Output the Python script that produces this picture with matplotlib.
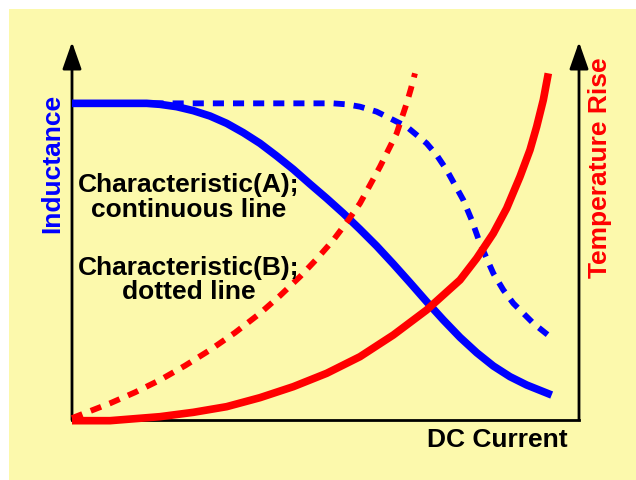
import matplotlib
matplotlib.use("Agg")
import matplotlib.pyplot as plt
from matplotlib.patches import Rectangle

# ---- data (x: DC current, y: relative level, both 0..100 of axis) ----
blue_solid_x = [0, 14.73, 17.36, 20.64, 23.93, 27.22, 30.51, 33.79, 37.08, 40.37, 43.65,
                46.94, 50.23, 53.52, 56.80, 60.09, 63.38, 66.67, 69.95, 73.24, 76.53,
                79.82, 83.10, 86.39, 89.68, 94.61]
blue_solid_y = [83.77, 83.77, 83.51, 82.89, 81.83, 80.42, 78.48, 76.01, 73.19, 69.84, 66.31,
                62.43, 58.64, 54.67, 50.44, 46.03, 41.27, 36.33, 31.31, 26.46, 21.87,
                17.81, 14.29, 11.46, 9.26, 6.61]

blue_dash_x = [0, 51.5, 54.18, 56.80, 60.09, 63.38, 66.01, 67.98, 69.95, 71.92, 73.90,
               75.54, 77.18, 78.83, 80.47, 83.10, 85.08, 87.05, 91.00, 94.28]
blue_dash_y = [83.77, 83.77, 83.51, 82.89, 81.57, 79.37, 77.60, 75.40, 73.19, 70.10, 66.14,
               62.17, 58.20, 52.91, 46.74, 38.80, 34.39, 30.86, 25.57, 22.05]

red_solid_x = [0, 7.50, 17.36, 23.93, 30.51, 37.08, 43.65, 50.23, 56.80, 63.38, 69.95,
               76.53, 79.82, 83.10, 85.73, 88.36, 90.33, 91.65, 92.96, 93.95]
red_solid_y = [-0.18, -0.18, 0.88, 2.03, 3.53, 5.91, 8.82, 12.35, 16.75, 22.49, 29.10,
               37.04, 42.77, 49.38, 55.99, 64.37, 71.43, 77.60, 84.66, 91.71]

red_dash_x = [0, 7.50, 12.43, 17.36, 22.29, 27.22, 32.15, 37.08, 41.03, 44.97, 48.26,
              51.55, 54.18, 56.80, 58.78, 60.75, 62.39, 64.04, 65.02, 66.01, 66.87, 67.65]
red_dash_y = [0.5, 4.41, 7.32, 10.58, 14.37, 18.52, 23.10, 28.22, 32.89, 37.92, 42.59,
              47.62, 52.29, 57.32, 62.17, 67.02, 71.43, 75.84, 79.81, 83.77, 87.74, 91.71]

left_label = "Inductance"
right_label = "Temperature Rise"
x_label = "DC Current"
note_a = ["Characteristic(A);", "continuous line"]
note_b = ["Characteristic(B);", "dotted line"]

W, H = 636, 480
fig = plt.figure(figsize=(W / 100, H / 100), dpi=100, facecolor="white")

# background panel
bg = fig.add_axes([9 / W, 0, (W - 9) / W, (H - 9) / H])
bg.set_axis_off()
bg.add_patch(Rectangle((0, -0.05), 1.1, 1.05, transform=bg.transAxes,
                       facecolor="#FCF9AC", edgecolor="none", clip_on=False))

x0, x1, y0, y1 = 72, 579, 420, 42
ax = fig.add_axes([x0 / W, (H - y0) / H, (x1 - x0) / W, (y0 - y1) / H])
ax.set_facecolor("none")
ax.set_xlim(0, 100)
ax.set_ylim(0, 100)
ax.set_xticks([])
ax.set_yticks([])
for s in ["top", "left", "right"]:
    ax.spines[s].set_visible(False)
ax.spines["bottom"].set_linewidth(2)
ax.spines["bottom"].set_color("black")

# axis lines with arrows
for xa in (0, 1):
    ax.annotate("", xy=(xa, 1.0), xytext=(xa, 0.0), xycoords="axes fraction",
                textcoords="axes fraction",
                arrowprops=dict(arrowstyle="-|>,head_length=1.65,head_width=0.58",
                                lw=2, color="black", shrinkA=0, shrinkB=0,
                                mutation_scale=10))

lw_solid = 5.5
lw_dash = 4.2
ax.plot(blue_solid_x, blue_solid_y, color="#0000FF", lw=lw_solid,
        solid_capstyle="butt", solid_joinstyle="round", clip_on=False, zorder=3)
ax.plot(blue_dash_x, blue_dash_y, color="#0000FF", lw=lw_dash,
        dashes=(1.9, 1.55), clip_on=False, zorder=3)
ax.plot(red_solid_x, red_solid_y, color="#FF0000", lw=lw_solid,
        solid_capstyle="butt", solid_joinstyle="round", clip_on=False, zorder=3)
ax.plot(red_dash_x, red_dash_y, color="#FF0000", lw=lw_dash,
        dashes=(1.9, 1.55), clip_on=False, zorder=3)

font = dict(family=["Liberation Sans", "DejaVu Sans"], weight="bold", size=19)

ax.text(-0.0385, 0.68, left_label, transform=ax.transAxes, rotation=90,
        color="#0000FF", ha="center", va="center", **font)
ax.text(1.0414, 0.667, right_label, transform=ax.transAxes, rotation=90,
        color="#FF0000", ha="center", va="center", **font)
ax.text(0.978, -0.071, x_label, transform=ax.transAxes, color="black",
        ha="right", va="baseline", **font)

for txt, yy in zip(note_a, [0.604, 0.538]):
    ax.text(0.231, yy, txt, transform=ax.transAxes, color="black",
            ha="center", va="baseline", zorder=4, **font)
for txt, yy in zip(note_b, [0.384, 0.319]):
    ax.text(0.231, yy, txt, transform=ax.transAxes, color="black",
            ha="center", va="baseline", zorder=4, **font)

fig.savefig("out.png", dpi=100, facecolor="white")
